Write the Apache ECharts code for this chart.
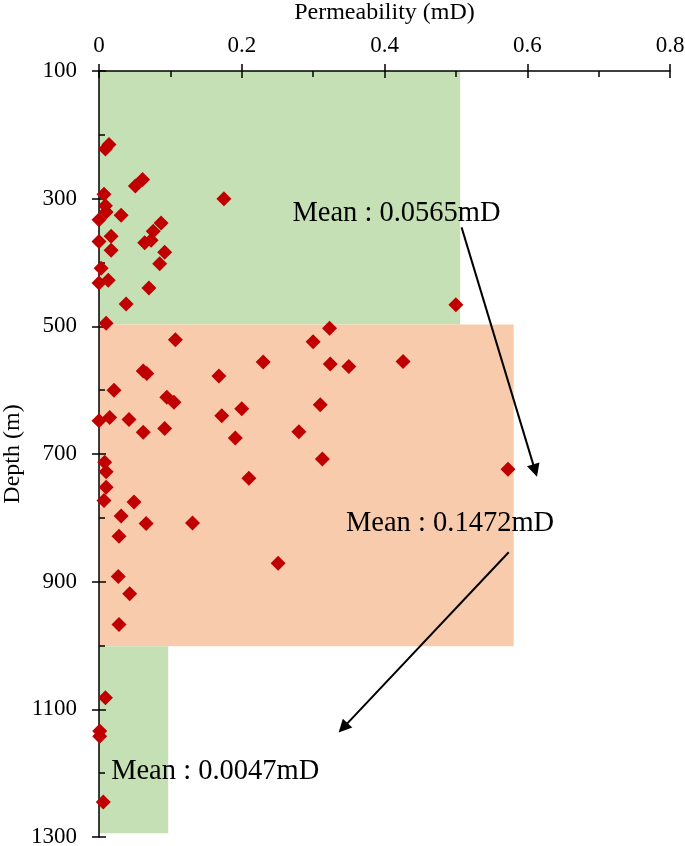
<!DOCTYPE html>
<html>
<head>
<meta charset="utf-8">
<script src="https://cdn.jsdelivr.net/npm/echarts@6/dist/echarts.min.js"></script>
<style>
  html, body { margin: 0; padding: 0; background: #fff; }
  #chart { width: 685px; height: 846px; }
</style>
</head>
<body>
<div id="chart"></div>
<script>
// permeability (mD) and depth (m) of each sample
const perm = [
  0.009, 0.014, 0.051, 0.061, 0.175, 0.007, 0.009, 0.010, 0.000, 0.031,
  0.087, 0.076, 0.064, 0.073, 0.017, 0.000, 0.017, 0.092, 0.085, 0.003,
  0.000, 0.013, 0.070, 0.038, 0.010, 0.107, 0.062, 0.067, 0.021, 0.168,
  0.230, 0.095, 0.105, 0.015, 0.000, 0.042, 0.062, 0.092, 0.172, 0.200,
  0.191, 0.280, 0.008, 0.010, 0.010, 0.007, 0.049, 0.031, 0.066, 0.131,
  0.028, 0.251, 0.027, 0.043, 0.028, 0.009, 0.001, 0.001, 0.006, 0.323,
  0.300, 0.324, 0.350, 0.426, 0.310, 0.313, 0.573, 0.500, 0.210
]
const depth = [
  222, 215, 280, 270, 300, 293, 311, 321, 333, 326,
  338, 351, 369, 365, 359, 367, 381, 384, 402, 409,
  432, 428, 440, 465, 495, 521, 570, 574, 600, 578,
  556, 611, 619, 643, 648, 646, 666, 660, 640, 629,
  675, 665, 713, 728, 752, 773, 775, 797, 809, 808,
  829, 871, 892, 919, 967, 1082, 1134, 1142, 1245, 503,
  524, 559, 563, 555, 623, 708, 724, 466, 738
]

// shaded depth zones
const zoneTop = [100, 497, 1001]
const zoneBottom = [497, 1001, 1294]
const zoneRight = [0.506, 0.581, 0.097]

// mean annotations
const meanText = ['Mean : 0.0565mD', 'Mean : 0.1472mD', 'Mean : 0.0047mD']
const meanAt = [[0.271, 324], [0.346, 809], [0.017, 1197]]
const arrows = [
  [[0.508, 345], [0.611, 726]],
  [[0.574, 854], [0.342, 1129]]
]

const zoneColors = ['#C5E0B4', '#F8CBAD', '#C5E0B4']
const font = 'Liberation Serif'

const chart = echarts.init(document.getElementById('chart'))

const axisText = { color: '#000', fontFamily: font, fontSize: 23 }
const tickStyle = { color: '#000', width: 1.5 }

const option = {
  backgroundColor: '#fff',
  animation: false,
  grid: { left: 99, right: 15, top: 71, bottom: 9, containLabel: false, outerBoundsMode: 'none' },
  xAxis: [
    {
      type: 'value', position: 'top', min: 0, max: 0.8, interval: 0.2, z: 3,
      name: 'Permeability (mD)', nameLocation: 'middle', nameGap: 46, nameMoveOverlap: false,
      nameTextStyle: { color: '#000', fontFamily: font, fontSize: 24 },
      axisLine: { lineStyle: tickStyle },
      axisTick: { show: true, inside: false, length: 7, lineStyle: tickStyle },
      axisLabel: Object.assign({ margin: 14 }, axisText),
      splitLine: { show: false }
    },
    {
      type: 'value', position: 'top', min: 0, max: 0.8, interval: 0.2, z: 3,
      axisLine: { show: false },
      axisTick: { show: true, inside: true, length: 7, lineStyle: tickStyle },
      minorTick: { show: true, splitNumber: 2, length: 6, lineStyle: tickStyle },
      axisLabel: { show: false },
      splitLine: { show: false }
    }
  ],
  yAxis: [
    {
      type: 'value', inverse: true, min: 100, max: 1300, interval: 200, z: 3,
      name: 'Depth (m)', nameLocation: 'middle', nameGap: 74, nameRotate: 90, nameMoveOverlap: false,
      nameTextStyle: { color: '#000', fontFamily: font, fontSize: 24 },
      axisLine: { lineStyle: tickStyle },
      axisTick: { show: true, inside: false, length: 7, lineStyle: tickStyle },
      axisLabel: Object.assign({ margin: 22, formatter: v => String(v) }, axisText),
      splitLine: { show: false }
    },
    {
      type: 'value', inverse: true, min: 100, max: 1300, interval: 200, z: 3,
      position: 'left',
      axisLine: { show: false },
      axisTick: { show: true, inside: true, length: 7, lineStyle: tickStyle },
      minorTick: { show: true, splitNumber: 2, length: 6, lineStyle: tickStyle },
      axisLabel: { show: false },
      splitLine: { show: false }
    }
  ],
  series: [
    {
      type: 'scatter',
      z: 4,
      symbol: 'diamond',
      symbolSize: 15,
      itemStyle: { color: '#C00000', opacity: 1 },
      data: perm.map((p, i) => [p, depth[i]]),
      markArea: {
        silent: true,
        data: zoneTop.map((t, i) => [
          { coord: [0, t], itemStyle: { color: zoneColors[i], opacity: 1 } },
          { coord: [zoneRight[i], zoneBottom[i]] }
        ])
      },
      markLine: {
        silent: true,
        symbol: ['none', 'triangle'],
        symbolSize: 13,
        label: { show: false },
        lineStyle: { color: '#000', width: 2, type: 'solid' },
        data: arrows.map(a => [{ coord: a[0] }, { coord: a[1] }])
      },
      markPoint: {
        silent: true,
        symbol: 'circle',
        symbolSize: 0,
        label: {
          show: true, position: 'right', distance: 0,
          color: '#000', fontFamily: font, fontSize: 28.5,
          formatter: p => p.name
        },
        data: meanText.map((t, i) => ({ name: t, coord: meanAt[i] }))
      }
    }
  ]
}

chart.setOption(option)
</script>
</body>
</html>
